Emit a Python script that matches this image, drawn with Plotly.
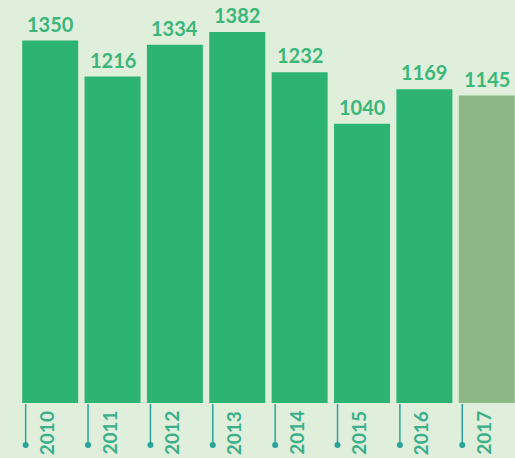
import plotly.graph_objects as go

years = ["2010", "2011", "2012", "2013", "2014", "2015", "2016", "2017"]
values = [1350, 1216, 1334, 1382, 1232, 1040, 1169, 1145]
bar_colors = ["#2db473"] * 7 + ["#8cb985"]

BG = "#e0eedc"
LABEL = "#3bb779"
TICK = "#2aa39a"
YEAR = "#3ab08a"

fig = go.Figure()
fig.add_trace(go.Bar(
    x=list(range(len(years))), y=values,
    marker=dict(color=bar_colors, line=dict(width=0)),
    hoverinfo="skip",
))

for i, (yr, v) in enumerate(zip(years, values)):
    fig.add_annotation(x=i, y=v, xref="x", yref="y", text=str(v), showarrow=False,
                       yanchor="bottom", yshift=3,
                       font=dict(family="Lato", size=20, color=LABEL, weight="bold"))
    fig.add_annotation(x=i, y=0, xref="x", yref="y", text=yr, showarrow=False,
                       textangle=-90, yanchor="top", xanchor="center", xshift=-4, yshift=-6,
                       font=dict(family="Lato", size=19, color=YEAR, weight="bold"))
    fig.add_shape(type="line", xref="x", yref="paper", xsizemode="pixel", ysizemode="pixel",
                  xanchor=i, yanchor=0, x0=-24.5, x1=-24.5, y0=-1, y1=-41,
                  line=dict(color=TICK, width=1.5))
    fig.add_shape(type="circle", xref="x", yref="paper", xsizemode="pixel", ysizemode="pixel",
                  xanchor=i, yanchor=0, x0=-27.5, x1=-21.5, y0=-45, y1=-39,
                  fillcolor=TICK, line=dict(width=0))

fig.update_layout(
    width=515, height=458,
    margin=dict(l=19, r=0, t=0, b=55),
    paper_bgcolor=BG, plot_bgcolor=BG,
    bargap=0.102, showlegend=False,
    xaxis=dict(range=[-0.5, 7.453], visible=False, fixedrange=True),
    yaxis=dict(range=[0, 1501], visible=False, fixedrange=True),
)

fig.write_html(
    "out.html",
    config={"displayModeBar": False},
    post_script="document.body.style.margin='0';document.body.style.overflow='hidden';"
                "document.body.style.background='" + BG + "';",
)
